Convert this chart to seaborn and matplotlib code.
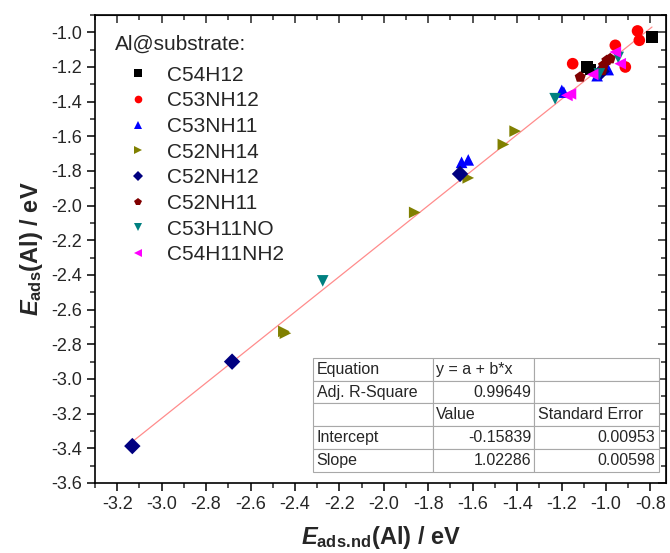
import numpy as np
import pandas as pd
import matplotlib
matplotlib.use("Agg")
import matplotlib.pyplot as plt
import seaborn as sns

# Adsorption energies, one pair of lists per substrate
c54h12_x = [-0.793, -1.086, -1.070]
c54h12_y = [-1.027, -1.200, -1.215]
c53nh12_x = [-1.150, -0.958, -0.913, -0.858, -0.850]
c53nh12_y = [-1.181, -1.075, -1.200, -0.992, -1.046]
c53nh11_x = [-1.650, -1.620, -1.199, -1.190, -1.040, -0.990]
c53nh11_y = [-1.750, -1.736, -1.335, -1.345, -1.250, -1.215]
c52nh14_x = [-2.443, -2.450, -1.861, -1.620, -1.462, -1.409]
c52nh14_y = [-2.736, -2.725, -2.039, -1.840, -1.647, -1.570]
c52nh12_x = [-3.132, -2.683, -1.657, -1.020]
c52nh12_y = [-3.387, -2.900, -1.817, -1.225]
c52nh11_x = [-1.116, -1.018, -1.011, -0.996, -0.981]
c52nh11_y = [-1.258, -1.220, -1.190, -1.162, -1.152]
c53h11no_x = [-2.275, -1.229, -0.945, -1.030]
c53h11no_y = [-2.434, -1.383, -1.145, -1.240]
c54h11nh2_x = [-1.176, -1.160, -1.060, -0.958, -0.936]
c54h11nh2_y = [-1.364, -1.355, -1.243, -1.114, -1.181]

substrates = ["C54H12", "C53NH12", "C53NH11", "C52NH14",
              "C52NH12", "C52NH11", "C53H11NO", "C54H11NH2"]
xs = [c54h12_x, c53nh12_x, c53nh11_x, c52nh14_x,
      c52nh12_x, c52nh11_x, c53h11no_x, c54h11nh2_x]
ys = [c54h12_y, c53nh12_y, c53nh11_y, c52nh14_y,
      c52nh12_y, c52nh11_y, c53h11no_y, c54h11nh2_y]
colors = ["#000000", "#FF0000", "#0000FF", "#808000",
          "#000080", "#800000", "#008080", "#FF00FF"]
markers = ["s", "o", "^", ">", "D", "p", "v", "<"]

# Linear fit results shown in the table
intercept, intercept_err = -0.15839, 0.00953
slope, slope_err = 1.02286, 0.00598
adj_r2 = 0.99649

rows = []
for name, x, y in zip(substrates, xs, ys):
    for xi, yi in zip(x, y):
        rows.append({"substrate": name, "x": xi, "y": yi})
df = pd.DataFrame(rows)

sns.set_style("ticks")
plt.rcParams["font.family"] = ["Liberation Sans", "DejaVu Sans"]
plt.rcParams["mathtext.fontset"] = "custom"
plt.rcParams["mathtext.it"] = "Liberation Sans:italic:bold"
plt.rcParams["mathtext.rm"] = "Liberation Sans:bold"
plt.rcParams["mathtext.bf"] = "Liberation Sans:bold"

fig = plt.figure(figsize=(6.7, 5.53), dpi=100)
ax = fig.add_axes([0.1418, 0.1266, 0.8522, 0.8463])

# fit line over the range of the data
fx = np.array([df["x"].min(), df["x"].max()])
ax.plot(fx, intercept + slope * fx, color="#FF8C8C", lw=0.9, zorder=1)

sns.scatterplot(data=df, x="x", y="y", hue="substrate", style="substrate",
                hue_order=substrates, style_order=substrates,
                palette=dict(zip(substrates, colors)),
                markers=dict(zip(substrates, markers)),
                s=70, linewidth=0, ax=ax, zorder=3, legend=True)

ax.set_xlim(-3.3, -0.73)
ax.set_ylim(-3.6, -0.9)
ax.set_xticks(np.arange(-3.2, -0.79, 0.2))
ax.set_yticks(np.arange(-3.6, -0.99, 0.2))
ax.set_xticks(np.arange(-3.3, -0.72, 0.1), minor=True)
ax.set_yticks(np.arange(-3.6, -0.89, 0.1), minor=True)
ax.xaxis.set_major_formatter(plt.FormatStrFormatter("%.1f"))
ax.yaxis.set_major_formatter(plt.FormatStrFormatter("%.1f"))
ax.tick_params(which="major", direction="out", length=6, width=1.1,
               labelsize=13, color="black")
ax.tick_params(which="minor", direction="out", length=3.5, width=1.1)
for sp in ax.spines.values():
    sp.set_linewidth(1.2)
    sp.set_color("black")
    sp.set_visible(True)

# mirrored inward ticks on top and right
top = ax.secondary_xaxis("top")
top.set_xticks(ax.get_xticks())
top.set_xticks(np.arange(-3.3, -0.72, 0.1), minor=True)
top.tick_params(which="both", direction="in", labeltop=False, width=1.1)
top.tick_params(which="major", length=6)
top.tick_params(which="minor", length=3.5)
right = ax.secondary_yaxis("right")
right.set_yticks(ax.get_yticks())
right.set_yticks(np.arange(-3.6, -0.89, 0.1), minor=True)
right.tick_params(which="both", direction="in", labelright=False, width=1.1)
right.tick_params(which="major", length=6)
right.tick_params(which="minor", length=3.5)

ax.set_xlabel(r"$\mathit{E}_{\mathrm{ads.\!nd}}$(Al) / eV", fontsize=17,
              fontweight="bold", labelpad=8)
ax.set_ylabel(r"$\mathit{E}_{\mathrm{ads}}$(Al) / eV", fontsize=17,
              fontweight="bold", labelpad=4)

handles, labels = ax.get_legend_handles_labels()
pairs = [(h, l) for h, l in zip(handles, labels) if l in substrates]
for h, _ in pairs:
    h.set_markersize(5.5)
leg = ax.legend([p[0] for p in pairs], [p[1] for p in pairs],
                title="Al@substrate:", loc="upper left", frameon=False,
                fontsize=15, title_fontsize=15, alignment="left",
                handletextpad=0.3, labelspacing=0.32,
                borderaxespad=0.55, handlelength=2.2)
leg._legend_box.sep = 8.5

# fit statistics table
cells = [["Equation", "y = a + b*x", ""],
         ["Adj. R-Square", f"{adj_r2:.5f}", ""],
         ["", "Value", "Standard Error"],
         ["Intercept", f"{intercept:.5f}", f"{intercept_err:.5f}"],
         ["Slope", f"{slope:.5f}", f"{slope_err:.5f}"]]
tab = ax.table(cellText=cells, colWidths=[0.347, 0.292, 0.361],
               bbox=[0.382, 0.0235, 0.606, 0.244], zorder=5)
tab.auto_set_font_size(False)
tab.set_fontsize(11.5)
right_cells = {(1, 1), (3, 1), (4, 1), (3, 2), (4, 2)}
for (r, c), cell in tab.get_celld().items():
    cell.set_edgecolor("#A8A8A8")
    cell.set_linewidth(0.8)
    cell.set_facecolor("white")
    cell.PAD = 0.03
    cell.get_text().set_ha("right" if (r, c) in right_cells else "left")
    cell._loc = "right" if (r, c) in right_cells else "left"

fig.savefig("out.png", dpi=100)
